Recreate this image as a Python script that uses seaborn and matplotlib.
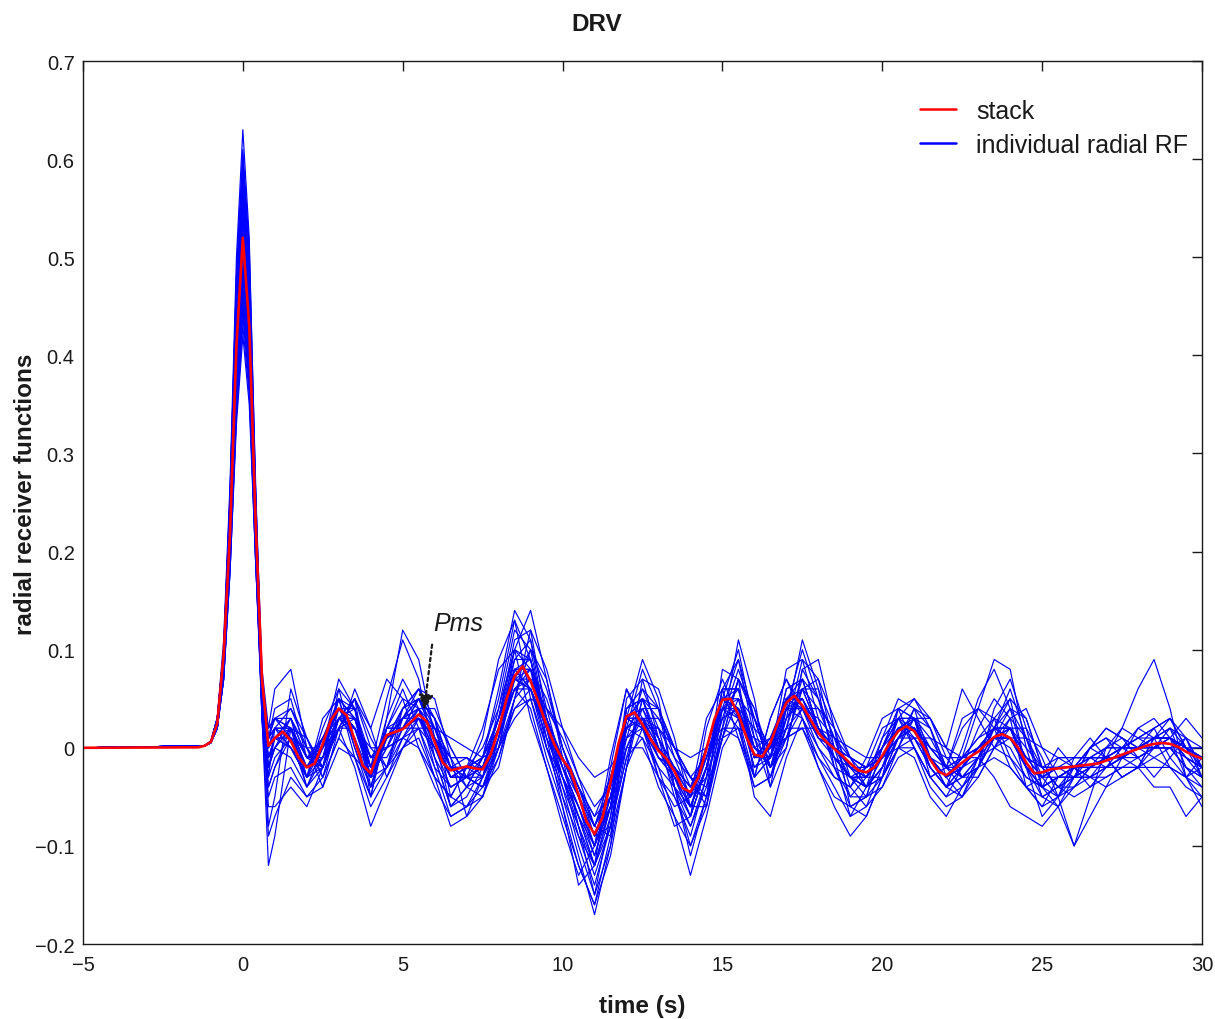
import numpy as np
import pandas as pd
import seaborn as sns
import matplotlib.pyplot as plt
from matplotlib.lines import Line2D

# time samples (s)
pulse_t = [-5, -1.2, -1.0, -0.8, -0.6, -0.4, -0.2, 0.0, 0.2, 0.4, 0.6, 0.8]
coda_t = list(np.arange(1.0, 30.01, 0.5))
stack_pulse_t = [-5, -1.4, -1.2, -1.0, -0.8, -0.6, -0.4, -0.2, 0.0, 0.2, 0.4, 0.6, 0.8]
stack_coda_t = list(np.arange(1.0, 30.01, 0.25))

# stacked radial RF
stack_pulse = [0, .0005, .002, .006, .025, .095, .22, .41, .52, .43, .23, .07, .002]
stack_coda = [
    .010, .0165, .007, -.010,  -.020, -.016, .004, .028,  .040, .033, .0075, -.018,
    -.026, -.003, .013, .016,  .019, .026, .034, .027,  .006, -.015, -.023, -.021,
    -.019, -.021, -.022, -.007,  .019, .050, .073, .083,  .068, .046, .023, .003,
    -.012, -.023, -.048, -.075,  -.088, -.071, -.035, .0045,  .032, .036, .024, .009,
    -.003, -.011, -.024, -.041,  -.045, -.030, -.001, .029,  .049, .050, .034, .011,
    -.007, -.009, .005, .027,  .046, .053, .043, .029,  .015, .006, -.001, -.008,
    -.016, -.023, -.025, -.020,  -.008, .006, .017, .022,  .017, .004, -.012, -.024,
    -.028, -.022, -.015, -.009,  -.004, .004, .011, .014,  .010, .000, -.015, -.026,
    -.025, -.022, -.021, -.020,  -.019, -.018, -.017, -.016,  -.013, -.010, -.007, -.004,
    -.001, .002, .004, .005,  .004, .001, -.004, -.008,  -.011]

# individual radial RFs: direct P pulse
rf_pulse = [
    [0, .002, .007, .03, .11, .27, .50, .63, .52, .26, .03, -.12],
    [0, .002, .006, .03, .10, .26, .48, .61, .51, .27, .06, -.08],
    [0, .002, .007, .03, .10, .26, .48, .60, .49, .24, .05, -.03],
    [0, .002, .006, .03, .10, .25, .47, .59, .49, .25, .07, .01],
    [0, .002, .006, .03, .10, .25, .46, .58, .48, .23, .04, .02],
    [0, .002, .006, .03, .10, .24, .45, .57, .47, .24, .06, -.01],
    [0, .002, .006, .03, .09, .23, .44, .56, .46, .23, .05, .00],
    [0, .002, .006, .03, .09, .23, .43, .55, .45, .22, .03, -.05],
    [0, .002, .005, .02, .08, .21, .42, .55, .47, .26, .08, .02],
    [0, .002, .006, .03, .09, .23, .43, .54, .45, .23, .05, -.02],
    [0, .002, .006, .03, .09, .22, .42, .53, .44, .22, .04, -.04],
    [0, .002, .006, .03, .09, .22, .41, .52, .43, .23, .06, .01],
    [0, .002, .006, .03, .09, .22, .41, .52, .42, .21, .03, -.01],
    [0, .002, .006, .03, .09, .22, .40, .51, .42, .22, .05, -.06],
    [0, .002, .006, .03, .08, .21, .39, .50, .42, .22, .06, .02],
    [0, .002, .006, .02, .08, .20, .38, .49, .41, .22, .06, .01],
    [0, .002, .006, .02, .08, .20, .38, .48, .40, .21, .05, .00],
    [0, .002, .006, .02, .08, .20, .37, .47, .39, .20, .04, -.03],
    [0, .002, .006, .02, .08, .19, .36, .46, .38, .20, .05, .01],
    [0, .002, .005, .02, .07, .19, .35, .45, .37, .19, .03, -.09],
    [0, .002, .005, .02, .07, .18, .34, .44, .37, .20, .05, .00],
    [0, .002, .005, .02, .07, .18, .34, .43, .36, .19, .04, -.02],
    [0, .002, .005, .02, .07, .18, .33, .42, .35, .19, .05, .02],
    [0, .002, .006, .03, .08, .21, .39, .50, .42, .21, .04, -.02],
    [0, .002, .006, .03, .10, .24, .45, .57, .47, .23, .05, -.02],
    [0, .002, .006, .03, .09, .22, .42, .53, .44, .22, .04, -.01],
    [0, .002, .006, .02, .08, .20, .38, .49, .40, .20, .03, -.04],
    [0, .002, .006, .02, .08, .20, .37, .47, .39, .20, .05, .01],
    [0, .002, .006, .03, .09, .22, .43, .55, .47, .25, .07, .01],
    [0, .002, .007, .03, .10, .26, .48, .60, .50, .26, .06, .00],
    [0, .002, .005, .02, .07, .19, .35, .45, .37, .19, .04, -.01],
    [0, .002, .006, .03, .09, .21, .40, .51, .42, .21, .05, .01],
]

# individual radial RFs: coda, 1 s to 30 s
rf_coda = [
    [-.09, .02, .01, -.03, .03, .05, -.04, -.02, .04, .06,
     .03, -.05, -.06, -.03, .04, .12, .10, .02, -.04, -.10,
     -.15, -.07, .05, .07, .01, -.05, -.09, -.03, .08, .07,
     -.03, -.01, .08, .09, .03, -.02, -.06, -.05, .00, .04,
     .03, -.03, -.05, -.02, .02, .05, .03, -.04, -.06, -.03,
     -.02, -.03, -.04, -.01, .02, .03, .01, -.03, -.05],
    [-.05, .06, .01, -.02, .06, .04, -.05, .02, .05, .04,
     -.01, -.06, -.04, -.01, .05, .13, .09, .01, -.06, -.12,
     -.16, -.09, .04, .06, .02, -.04, -.11, -.05, .06, .09,
     .01, -.04, .04, .10, .05, -.01, -.07, -.04, .01, .03,
     .01, -.02, -.04, -.03, -.01, .02, .06, .01, -.04, -.05,
     -.03, .00, -.01, -.03, -.02, .01, .03, .00, -.02],
    [.02, .00, -.03, .03, .05, -.01, -.03, .03, .07, .04,
     -.02, -.04, -.03, .01, .09, .13, .05, -.01, -.06, -.14,
     -.12, -.02, .06, .03, -.03, -.08, -.07, .02, .07, .03,
     -.03, .03, .07, .04, .00, -.03, -.04, -.02, .02, .03,
     .00, -.03, -.02, .02, .04, .03, -.01, -.03, -.04, -.01,
     -.02, -.04, -.02, .00, .01, .02, -.01, -.03, -.02],
    [.04, .05, -.01, -.01, .05, .03, -.02, .01, .03, .05,
     .03, -.02, -.03, -.04, .01, .09, .11, .04, -.02, -.06,
     -.11, -.06, .04, .05, .00, -.03, -.06, -.02, .05, .06,
     .00, -.01, .05, .07, .02, .00, -.02, -.04, -.02, .02,
     .03, .00, -.02, -.02, .00, .01, .02, -.01, -.03, -.03,
     -.02, -.01, -.02, -.01, .00, .01, .01, -.01, -.03],
    [.06, .08, .00, -.04, .02, .05, .00, -.02, .00, .03,
     .02, -.01, -.04, -.05, .00, .07, .10, .06, .00, -.05,
     -.09, -.06, .00, .04, .04, .00, -.04, -.05, .02, .07,
     .04, -.02, .01, .06, .06, .02, -.03, -.05, -.04, .00,
     .04, .03, -.01, -.03, -.02, .01, .04, .03, -.02, -.04,
     -.04, -.02, .00, .01, .00, -.01, .00, .01, .00],
    [.01, .02, -.04, -.02, .04, .04, -.02, .05, .11, .07,
     -.01, -.06, -.05, -.02, .03, .11, .12, .03, -.03, -.09,
     -.14, -.08, .02, .08, .04, -.04, -.08, -.04, .05, .10,
     .02, -.03, .03, .11, .06, -.02, -.05, -.03, .01, .05,
     .04, -.01, -.04, -.05, -.01, .03, .05, -.02, -.07, -.05,
     -.01, .01, -.01, -.03, -.02, .01, .02, -.02, -.04],
    [.02, .01, -.02, .00, .04, .02, -.03, .01, .03, .05,
     .02, -.03, -.02, -.02, .02, .08, .08, .03, -.01, -.05,
     -.10, -.05, .03, .03, -.01, -.03, -.05, .00, .05, .04,
     -.01, .01, .05, .05, .02, .00, -.02, -.03, -.01, .02,
     .02, -.01, -.03, -.02, .00, .02, .01, -.02, -.03, -.02,
     -.02, -.02, -.01, -.01, .00, .01, .01, .00, -.01],
    [-.03, -.02, -.05, -.03, .01, -.01, -.06, -.03, .00, .02,
     -.02, -.07, -.06, -.05, -.01, .04, .05, .00, -.04, -.08,
     -.12, -.08, -.01, .01, -.04, -.07, -.10, -.05, .01, .02,
     -.04, -.03, .01, .02, -.01, -.04, -.07, -.06, -.04, -.01,
     .00, -.04, -.06, -.05, -.03, .00, -.01, -.04, -.06, -.05,
     -.04, -.03, -.03, -.02, -.02, -.01, -.02, -.04, -.05],
    [.03, .03, .00, -.03, .01, .06, .02, -.03, .01, .04,
     .04, .00, -.03, -.04, -.02, .05, .12, .08, .02, -.03,
     -.08, -.09, -.02, .05, .04, .00, -.03, -.06, .01, .07,
     .04, -.01, .01, .06, .07, .03, -.01, -.04, -.03, .01,
     .04, .02, -.02, -.03, -.01, .02, .05, .03, -.02, -.04,
     -.03, -.01, .00, .00, .01, .02, .03, .01, -.02],
    [.00, .03, -.01, -.02, .03, .03, -.03, .00, .04, .06,
     .02, -.02, -.03, -.04, .00, .08, .09, .02, -.03, -.07,
     -.11, -.05, .03, .05, .00, -.02, -.06, -.02, .04, .05,
     .00, -.02, .04, .06, .02, -.01, -.03, -.02, .00, .03,
     .02, -.01, -.03, -.01, .01, .02, .02, -.01, -.02, -.02,
     -.03, -.02, -.02, -.01, .00, .00, .00, -.01, -.02],
    [-.02, .02, -.03, .01, .05, .00, -.05, .03, .12, .09,
     .01, -.06, -.04, -.01, .06, .14, .11, .02, -.05, -.11,
     -.17, -.10, .03, .09, .05, -.04, -.10, -.06, .04, .09,
     .03, -.02, .02, .09, .07, .00, -.05, -.05, .00, .04,
     .03, -.02, -.04, .00, .05, .08, .04, -.02, -.05, -.04,
     -.02, .00, .01, .00, -.01, .00, .01, .00, -.01],
    [.02, .00, -.02, .01, .04, .01, -.03, .02, .02, .03,
     .01, -.02, -.01, -.02, .03, .08, .06, .02, -.01, -.04,
     -.08, -.03, .03, .02, -.01, -.02, -.04, .00, .05, .03,
     -.01, .00, .04, .04, .01, .00, -.01, -.02, -.01, .01,
     .01, -.01, -.02, -.01, .00, .01, .01, -.01, -.02, -.02,
     -.02, -.02, -.01, -.01, .00, .00, .00, .00, -.01],
    [.01, .00, -.03, .00, .04, .02, -.02, .02, .02, .02,
     .00, -.03, -.02, -.01, .02, .07, .07, .02, -.02, -.05,
     -.09, -.04, .03, .02, -.01, -.03, -.05, .00, .05, .04,
     -.02, .00, .05, .05, .01, -.01, -.02, -.03, -.01, .02,
     .02, -.01, -.03, -.01, .04, .09, .08, .00, -.05, -.06,
     -.04, -.02, -.01, .02, .06, .09, .04, -.03, -.06],
    [-.06, -.04, -.06, -.02, .02, -.02, -.08, -.04, .00, .01,
     -.03, -.08, -.07, -.03, .02, .06, .04, -.02, -.07, -.12,
     -.16, -.11, -.02, .02, -.02, -.07, -.13, -.07, .00, .03,
     -.05, -.07, -.01, .03, -.02, -.06, -.09, -.07, -.03, .00,
     -.01, -.05, -.07, -.04, -.01, -.03, -.06, -.07, -.08, -.06,
     -.10, -.07, -.04, -.03, -.02, -.04, -.04, -.07, -.05],
    [.03, .02, -.01, .01, .03, .03, -.01, .00, .01, .03,
     .01, -.01, -.01, -.03, .00, .05, .07, .04, .01, -.03,
     -.06, -.04, .01, .03, .02, -.01, -.03, -.01, .03, .04,
     .02, .00, .02, .04, .03, .01, -.01, -.02, -.01, .01,
     .02, .00, -.01, -.01, .00, .01, .02, .00, -.02, -.02,
     -.01, -.01, -.01, -.01, .00, .01, .01, .00, -.01],
    [.01, .01, .00, .00, .02, .02, .00, .00, .01, .02,
     .02, .01, .00, -.01, .00, .03, .05, .04, .02, -.01,
     -.03, -.02, .01, .02, .02, .00, -.01, .00, .02, .02,
     .01, .00, .01, .02, .02, .01, .00, -.01, -.01, .00,
     .01, .01, .00, -.01, -.01, .00, .01, .01, .00, -.01,
     -.01, -.01, .00, .00, .01, .01, .01, .00, .00],
    [.01, .03, -.01, -.02, .03, .04, -.01, .00, .03, .04,
     .01, -.03, -.03, -.03, .01, .07, .08, .03, -.02, -.06,
     -.10, -.06, .02, .04, .01, -.02, -.06, -.02, .04, .06,
     .01, -.02, .03, .06, .04, .00, -.03, -.04, -.02, .03,
     .05, .03, .00, .06, .03, .00, .03, .04, .00, -.03,
     -.02, .00, .02, .01, .00, .02, .03, .00, -.03],
    [-.01, .01, -.04, -.01, .03, .01, -.04, .01, .02, .03,
     -.01, -.04, -.03, -.02, .02, .08, .06, .00, -.03, -.07,
     -.10, -.05, .02, .01, -.02, -.04, -.07, -.02, .04, .02,
     -.03, -.01, .04, .03, .00, -.02, -.03, -.04, -.02, .02,
     .01, -.02, -.04, -.03, -.02, .01, .00, -.03, -.04, -.03,
     -.03, -.03, -.02, -.02, -.01, .00, .00, -.02, -.03],
    [.03, .04, .00, -.02, .02, .05, .02, .07, .05, .00,
     -.03, -.05, -.02, .00, .04, .10, .08, .00, -.05, -.09,
     -.12, -.07, .01, .06, .04, -.01, -.05, -.03, .03, .08,
     .03, -.02, .00, .08, .05, .01, -.04, -.06, -.02, .01,
     .03, .02, -.02, -.04, -.02, .02, .04, .01, -.03, -.05,
     -.02, .00, .01, -.01, -.02, .00, .02, .01, -.03],
    [-.07, -.03, -.05, -.04, .00, -.01, -.05, -.02, .01, .00,
     -.04, -.07, -.06, -.04, .00, .04, .06, .01, -.03, -.08,
     -.13, -.08, .00, .00, -.03, -.05, -.08, -.03, .02, .01,
     -.04, -.03, .02, .02, -.02, -.05, -.06, -.05, -.03, .00,
     .00, -.03, -.05, -.04, -.02, -.01, -.02, -.04, -.05, -.04,
     -.05, -.04, -.03, -.02, -.02, -.02, -.02, -.03, -.04],
    [.01, .01, -.02, .01, .04, .02, -.02, .01, .02, .04,
     .01, -.02, -.02, -.01, .03, .07, .06, .02, -.01, -.05,
     -.08, -.04, .03, .03, -.01, -.02, -.04, .00, .05, .04,
     -.01, .00, .05, .04, .01, .00, -.01, -.02, -.01, .02,
     .02, -.01, -.03, -.02, .00, .02, .01, -.02, -.03, -.02,
     -.02, -.02, -.01, -.01, .00, .01, .01, .00, -.01],
    [.00, .02, -.02, -.01, .02, .03, -.01, -.01, .02, .05,
     .03, -.02, -.04, -.03, .01, .06, .08, .05, .00, -.04,
     -.07, -.05, .00, .03, .03, .00, -.03, -.04, .01, .05,
     .03, .00, .01, .04, .04, .02, -.01, -.03, -.03, .00,
     .03, .03, .00, -.03, -.03, .00, .02, .02, -.01, -.05,
     -.10, -.05, .00, .02, .01, .00, .01, .03, .01],
    [.03, .02, -.01, .00, .03, .02, -.01, .01, .02, .03,
     .01, -.01, -.01, -.02, .02, .06, .06, .02, -.01, -.04,
     -.07, -.03, .03, .02, .00, -.02, -.04, -.01, .04, .03,
     .00, .01, .04, .04, .02, .00, -.01, -.02, -.01, .02,
     .02, .00, -.02, -.01, .00, .01, .01, -.01, -.02, -.01,
     -.01, -.01, -.01, .00, .00, .01, .01, .00, -.01],
    [.00, -.01, -.04, .00, .07, .04, -.03, -.02, .03, .06,
     .05, -.01, -.07, -.05, .01, .10, .14, .07, -.01, -.08,
     -.15, -.10, -.02, .07, .06, .01, -.06, -.06, .02, .11,
     .05, -.04, .00, .08, .09, .02, -.06, -.07, -.03, .04,
     .05, .02, -.03, -.05, -.02, .04, .07, .02, -.04, -.06,
     -.03, .00, .02, .01, -.01, -.03, -.01, .01, -.02],
    [.01, .03, -.03, -.01, .05, .04, -.02, .01, .04, .05,
     .01, -.03, -.03, -.02, .03, .10, .09, .02, -.03, -.07,
     -.12, -.06, .04, .05, .00, -.03, -.07, -.02, .06, .06,
     -.01, -.01, .06, .07, .02, -.01, -.03, -.03, .00, .03,
     .03, -.01, -.03, -.01, .01, .03, .02, -.02, -.04, -.03,
     -.02, -.01, -.01, .00, .00, .01, .01, -.01, -.02],
    [.00, .02, -.02, .00, .04, .03, -.02, .01, .03, .04,
     .00, -.03, -.02, -.02, .02, .08, .08, .02, -.02, -.06,
     -.10, -.05, .03, .04, .00, -.03, -.06, -.01, .05, .05,
     -.01, .00, .05, .06, .02, -.01, -.03, -.03, -.01, .02,
     .02, -.02, -.04, -.02, .00, .02, .02, -.02, -.04, -.03,
     -.03, -.02, -.02, -.01, .00, .00, .01, -.01, -.02],
    [-.02, .01, -.03, .02, .06, .00, -.04, .02, .06, .02,
     -.03, -.05, -.02, .02, .08, .10, .03, -.02, -.08, -.13,
     -.10, -.01, .06, .02, -.03, -.06, -.05, .03, .06, .01,
     -.03, .03, .07, .03, -.01, -.03, -.04, -.01, .03, .04,
     .00, -.03, -.02, .03, .04, .02, -.02, -.04, -.03, .00,
     -.02, -.03, -.01, .00, .02, .01, -.02, -.03, -.01],
    [.02, .02, -.01, .00, .03, .03, -.01, .01, .02, .04,
     .02, -.02, -.02, -.03, .01, .06, .07, .03, -.01, -.05,
     -.08, -.05, .02, .03, .01, -.02, -.05, -.01, .04, .04,
     .00, -.01, .04, .05, .02, .00, -.02, -.03, -.01, .02,
     .02, .00, -.02, -.02, -.01, .01, .02, -.01, -.03, -.02,
     -.02, -.02, -.01, -.01, .00, .01, .01, .00, -.01],
    [.02, .04, .01, -.02, .02, .05, .01, -.02, .02, .05,
     .03, .00, -.03, -.04, -.01, .05, .10, .07, .00, -.04,
     -.09, -.08, -.01, .05, .03, .00, -.03, -.05, .01, .07,
     .03, -.02, .02, .07, .05, .01, -.02, -.04, -.03, .01,
     .03, .01, -.02, -.03, -.02, .01, .03, .01, -.02, -.04,
     -.03, -.02, -.01, .00, .00, .01, .02, .00, -.02],
    [.02, .02, -.02, .00, .05, .03, -.03, .01, .04, .05,
     .01, -.03, -.03, -.02, .03, .09, .09, .03, -.02, -.07,
     -.12, -.06, .03, .05, .01, -.03, -.07, -.02, .06, .06,
     .00, -.01, .06, .07, .02, -.01, -.03, -.04, -.01, .03,
     .03, -.01, -.04, -.02, .00, .02, .02, -.02, -.04, -.03,
     -.02, -.02, -.02, -.01, .00, .01, .01, -.01, -.02],
    [.01, .00, -.03, -.02, .03, .02, -.03, .00, .03, .03,
     .00, -.04, -.03, -.01, .03, .07, .06, .01, -.03, -.06,
     -.10, -.06, .02, .03, .00, -.04, -.06, -.02, .03, .04,
     -.02, -.01, .03, .05, .02, -.01, -.03, -.04, -.02, .01,
     .02, -.01, -.03, -.02, .00, .02, .01, -.02, -.04, -.03,
     -.03, -.03, -.02, -.01, -.01, .00, .00, -.02, -.03],
    [.03, .01, -.02, .01, .04, .02, -.02, .02, .03, .03,
     .01, -.02, -.02, -.01, .03, .07, .06, .02, -.01, -.04,
     -.08, -.04, .03, .03, .00, -.02, -.05, .00, .05, .04,
     -.01, .01, .05, .04, .01, .00, -.02, -.02, .00, .02,
     .02, -.01, -.03, -.01, .00, .01, .01, -.02, -.03, -.02,
     -.02, -.01, -.01, .00, .00, .01, .01, .00, -.01],
]

rows = []
for i, (p, c) in enumerate(zip(rf_pulse, rf_coda)):
    for t, v in zip(pulse_t + coda_t, p + c):
        rows.append((i, t, v))
rf = pd.DataFrame(rows, columns=["trace", "time", "amp"])
stack = pd.DataFrame({"time": stack_pulse_t + stack_coda_t,
                      "amp": stack_pulse + stack_coda})

sns.set_theme(style="white")
plt.rcParams["font.family"] = ["Liberation Sans", "DejaVu Sans"]
plt.rcParams["text.color"] = "k"
plt.rcParams["axes.labelcolor"] = "k"

fig, ax = plt.subplots(figsize=(12.15, 10.2), dpi=100)
fig.subplots_adjust(left=0.0683, right=0.9893, top=0.9392, bottom=0.0735)

sns.lineplot(data=rf, x="time", y="amp", units="trace", estimator=None,
             color="#0000ff", lw=0.85, ax=ax)
sns.lineplot(data=stack, x="time", y="amp", color="#ff0000", lw=1.9, ax=ax)

# Pms arrow
ax.annotate("", xy=(5.66, 0.036), xytext=(5.93, 0.108),
            arrowprops=dict(arrowstyle="-|>", color="k", lw=1.6,
                            linestyle=(0, (1.5, 1.5)), mutation_scale=22))
ax.text(5.97, 0.115, "Pms", fontsize=18, style="italic", ha="left", va="bottom")

ax.set_xlim(-5, 30)
ax.set_ylim(-0.2, 0.7)
ax.set_xticks([-5, 0, 5, 10, 15, 20, 25, 30])
ax.set_xticklabels(["\u22125", "0", "5", "10", "15", "20", "25", "30"])
ax.set_yticks([-0.2, -0.1, 0, 0.1, 0.2, 0.3, 0.4, 0.5, 0.6, 0.7])
ax.set_yticklabels(["\u22120.2", "\u22120.1", "0", "0.1", "0.2", "0.3",
                    "0.4", "0.5", "0.6", "0.7"])
ax.tick_params(direction="in", top=True, right=True, length=7, width=1,
               labelsize=14.5, colors="k")
ax.tick_params(axis="x", pad=8)
ax.tick_params(axis="y", pad=6)
for s in ax.spines.values():
    s.set_color("k")
    s.set_linewidth(1.0)

ax.set_title("DRV", fontsize=17.5, fontweight="bold", pad=22, x=0.459)
ax.set_xlabel("time (s)", fontsize=17.5, fontweight="bold", labelpad=14)
ax.set_ylabel("radial receiver functions", fontsize=17.5, fontweight="bold")
ax.yaxis.set_label_coords(-0.041, 0.51)

handles = [Line2D([], [], color="#ff0000", lw=1.8),
           Line2D([], [], color="#0000ff", lw=1.8)]
ax.legend(handles, ["stack", "individual radial RF"], loc="upper left",
          bbox_to_anchor=(0.748, 0.957), frameon=False, fontsize=18,
          handlelength=1.45, handletextpad=0.8, labelspacing=0.4,
          borderpad=0, borderaxespad=0)

fig.savefig("out.png", dpi=100)
